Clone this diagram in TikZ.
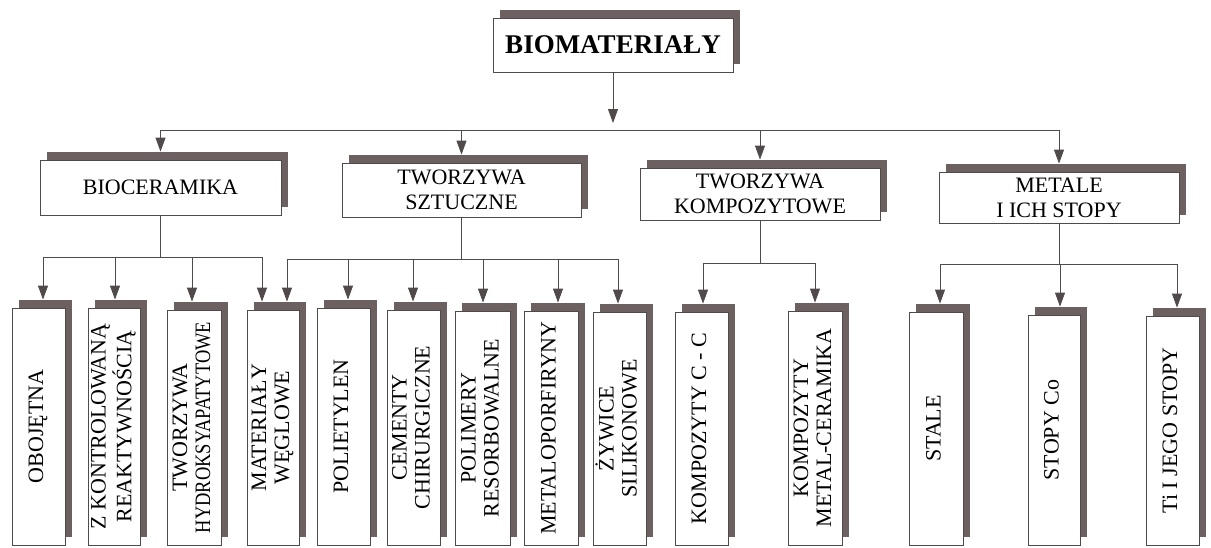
\documentclass[tikz,border=0pt]{standalone}
\usepackage{fontspec}
\setmainfont{Liberation Serif}
\usepackage{graphicx}
\usetikzlibrary{arrows.meta,shadows}
\definecolor{shc}{RGB}{108,96,96}
\definecolor{lnc}{RGB}{80,74,74}
\newcommand{\rt}[1]{\rotatebox{90}{\begin{tabular}{@{}c@{}}#1\end{tabular}}}
\begin{document}
\begin{tikzpicture}[x=1pt,y=-1pt,
  ln/.style={draw=lnc, line width=0.8pt},
  arr/.style={ln, -{Triangle[width=10pt,length=14pt]}, shorten >=8pt},
  arrtop/.style={ln, -{Triangle[width=10pt,length=14pt]}},
  box/.style={draw=lnc, line width=0.8pt, fill=white, inner sep=0pt,
    general shadow={fill=shc, shadow xshift=7pt, shadow yshift=8pt},
    font=\fontsize{22}{25}\selectfont, align=center},
  leaf/.style={box, font=\fontsize{22}{23}\selectfont}]
\useasboundingbox (0,0) rectangle (1211,547);

% top
\node[box, minimum width=240, minimum height=54, font=\fontsize{27}{30}\selectfont\bfseries] (bio) at (613,45) {BIOMATERIAŁY};

% level 2
\node[box, minimum width=241, minimum height=55] (bioc) at (160.5,187.5) {BIOCERAMIKA};
\node[box, minimum width=239, minimum height=54] (tsz) at (461.5,190) {TWORZYWA\\SZTUCZNE};
\node[box, minimum width=240, minimum height=52] (tk) at (760,194) {TWORZYWA\\KOMPOZYTOWE};
\node[box, minimum width=240, minimum height=51] (met) at (1059,197.5) {METALE\\I ICH STOPY};

% level 3
\node[leaf, minimum width=53, minimum height=237] (obo) at (38.5,426.5) {\rt{OBOJĘTNA}};
\node[leaf, minimum width=52, minimum height=237] (zkr) at (114,426.5) {\rt{Z KONTROLOWANĄ\\REAKTYWNOŚCIĄ}};
\node[leaf, minimum width=54, minimum height=235] (thy) at (194,427.5) {\rt{TWORZYWA\\\scalebox{0.84}[1]{HYDROKSYAPATYTOWE}}};
\node[leaf, minimum width=52, minimum height=235] (mwe) at (273,427.5) {\rt{MATERIAŁY\\WĘGLOWE}};
\node[leaf, minimum width=53, minimum height=237] (pol) at (343.5,426.5) {\rt{POLIETYLEN}};
\node[leaf, minimum width=53, minimum height=235] (cem) at (413.5,427.5) {\rt{CEMENTY\\CHIRURGICZNE}};
\node[leaf, minimum width=55, minimum height=234] (prs) at (482.5,428) {\rt{POLIMERY\\RESORBOWALNE}};
\node[leaf, minimum width=54, minimum height=234] (mpf) at (551,428) {\rt{METALOPORFIRYNY}};
\node[leaf, minimum width=53, minimum height=233] (zyw) at (619.5,428.5) {\rt{ŻYWICE\\SILIKONOWE}};
\node[leaf, minimum width=53, minimum height=233] (kcc) at (701.5,428.5) {\rt{KOMPOZYTY C - C}};
\node[leaf, minimum width=54, minimum height=234] (kmc) at (815,428) {\rt{KOMPOZYTY\\METAL-CERAMIKA}};
\node[leaf, minimum width=54, minimum height=233] (sta) at (936,428.5) {\rt{STALE}};
\node[leaf, minimum width=52, minimum height=230] (sco) at (1054,430) {\rt{STOPY Co}};
\node[leaf, minimum width=53, minimum height=229] (tij) at (1172.5,430.5) {\rt{Ti I JEGO STOPY}};

% top connectors
\coordinate (j0) at (613,123);
\coordinate (h0) at (613,130);
\draw[arrtop] (bio.south) -- (j0);
\draw[ln] (bioc.north |- h0) -- (met.north |- h0);
\draw[arr] (bioc.north |- h0) -- (bioc.north);
\draw[arr] (tsz.north |- h0) -- (tsz.north);
\draw[arr] (tk.north |- h0) -- (tk.north);
\draw[arr] (met.north |- h0) -- (met.north);

% BIOCERAMIKA group
\coordinate (b1) at (43,257);
\coordinate (b2) at (115,257);
\coordinate (b3) at (192,257);
\coordinate (b4) at (262,257);
\draw[ln] (bioc.south) -- (bioc.south |- b1);
\draw[ln] (b1) -- (b4);
\draw[arr] (b1) -- (b1 |- obo.north);
\draw[arr] (b2) -- (b2 |- zkr.north);
\draw[arr] (b3) -- (b3 |- thy.north);
\draw[arr] (b4) -- (b4 |- mwe.north);

% TWORZYWA SZTUCZNE group
\coordinate (t1) at (287,259);
\coordinate (t2) at (348,259);
\coordinate (t3) at (413,259);
\coordinate (t4) at (483,259);
\coordinate (t5) at (558,259);
\coordinate (t6) at (618,259);
\draw[ln] (tsz.south) -- (tsz.south |- t1);
\draw[ln] (t1) -- (t6);
\draw[arr] (t1) -- (t1 |- mwe.north);
\draw[arr] (t2) -- (t2 |- pol.north);
\draw[arr] (t3) -- (t3 |- cem.north);
\draw[arr] (t4) -- (t4 |- prs.north);
\draw[arr] (t5) -- (t5 |- mpf.north);
\draw[arr] (t6) -- (t6 |- zyw.north);

% KOMPOZYTOWE group
\coordinate (k1) at (703,263);
\coordinate (k2) at (815,263);
\draw[ln] (tk.south) -- (tk.south |- k1);
\draw[ln] (k1) -- (k2);
\draw[arr] (k1) -- (k1 |- kcc.north);
\draw[arr] (k2) -- (k2 |- kmc.north);

% METALE group
\coordinate (m1) at (940,264);
\coordinate (m2) at (1060,264);
\coordinate (m3) at (1177,264);
\draw[ln] (met.south) -- (met.south |- m1);
\draw[ln] (m1) -- (m3);
\draw[arr] (m1) -- (m1 |- sta.north);
\draw[arr] (m2) -- (m2 |- sco.north);
\draw[arr] (m3) -- (m3 |- tij.north);
\end{tikzpicture}
\end{document}
